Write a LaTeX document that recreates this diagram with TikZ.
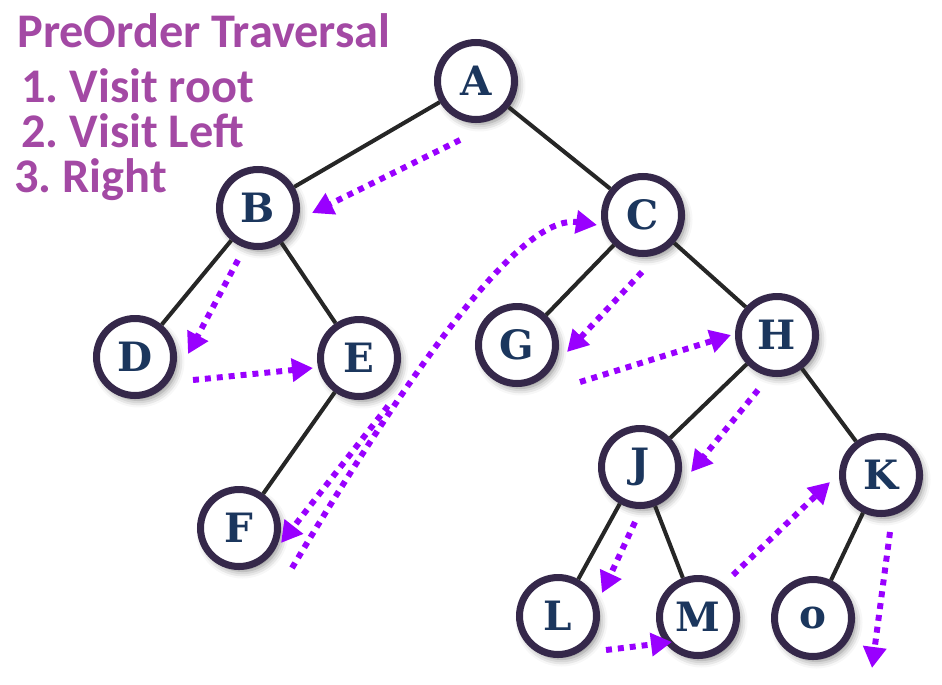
\documentclass[tikz,border=0pt]{standalone}
\usepackage{fontspec}
\newfontfamily\titlefont{Carlito}
\newfontfamily\letterfont{DejaVu Serif}
\usetikzlibrary{arrows.meta,shadows.blur}
\definecolor{ringcol}{HTML}{35284A}
\definecolor{lettercol}{HTML}{1B365D}
\definecolor{tracecol}{HTML}{9900FF}
\definecolor{titlecol}{HTML}{A349A4}
\frenchspacing
\tikzset{
  treenode/.style={circle, draw=ringcol, line width=4pt, fill=white,
    minimum size=1.54cm, inner sep=0pt, text=lettercol,
    font=\letterfont\fontsize{23}{27}\selectfont\bfseries,
    blur shadow={shadow xshift=0.07cm, shadow yshift=-0.09cm,
      shadow blur radius=0.15cm, shadow opacity=50}},
  branch/.style={line width=2.3pt, draw=black!85},
  trav/.style={line width=3.4pt, draw=tracecol, dash pattern=on 3.4pt off 3.4pt,
    -{Triangle[length=0.42cm,width=0.45cm,fill=tracecol]}},
  heading/.style={anchor=base west, inner sep=0pt, text=titlecol,
    font=\titlefont\fontsize{27.5}{30}\selectfont\bfseries}
}
\begin{document}
\begin{tikzpicture}[x=0.02cm,y=-0.02cm]
  \useasboundingbox (0,0) rectangle (942,684);
  % title and steps
  \node[heading] (title) at (17,47) {PreOrder Traversal};
  \node[heading] (stepone) at (21,102) {1. Visit root};
  \node[heading] (steptwo) at (21,147) {2. Visit Left};
  \node[heading] (stepthree) at (14,192) {3. Right};
  % tree nodes
  \node[treenode] (A) at (476,81) {A};
  \node[treenode] (B) at (258,208) {B};
  \node[treenode] (C) at (643,215) {C};
  \node[treenode] (D) at (135,357) {D};
  \node[treenode] (E) at (359,358) {E};
  \node[treenode] (F) at (239,528) {F};
  \node[treenode] (G) at (517,345) {G};
  \node[treenode] (H) at (777,335) {H};
  \node[treenode] (J) at (640,467) {J};
  \node[treenode] (K) at (881,475) {K};
  \node[treenode] (L) at (558,616) {L};
  \node[treenode] (M) at (698,617) {M};
  \node[treenode] (O) at (813,618) {o};
  % branches
  \draw[branch] (A) -- (B);
  \draw[branch] (A) -- (C);
  \draw[branch] (B) -- (D);
  \draw[branch] (B) -- (E);
  \draw[branch] (E) -- (F);
  \draw[branch] (C) -- (G);
  \draw[branch] (C) -- (H);
  \draw[branch] (H) -- (J);
  \draw[branch] (H) -- (K);
  \draw[branch] (J) -- (L);
  \draw[branch] (J) -- (M);
  \draw[branch] (K) -- (O);
  % visiting order
  \coordinate (finish) at (872,668);
  \draw[trav] ([shift={(-16,59)}]A.center) -- ([shift={(54,5)}]B.center);
  \draw[trav] ([shift={(-20,52)}]B.center) -- ([shift={(53,-3)}]D.center);
  \draw[trav] ([shift={(58,23)}]D.center) -- ([shift={(-46,10)}]E.center);
  \draw[trav] ([shift={(29,48)}]E.center) -- ([shift={(42,15)}]F.center);
  \draw[trav] ([shift={(53,40)}]F.center) .. controls +(148,-248) and +(-67,-10) .. ([shift={(-46,10)}]C.center);
  \draw[trav] ([shift={(-1,57)}]C.center) -- ([shift={(50,7)}]G.center);
  \draw[trav] ([shift={(63,37)}]G.center) -- ([shift={(-46,0)}]H.center);
  \draw[trav] ([shift={(-19,55)}]H.center) -- ([shift={(51,5)}]J.center);
  \draw[trav] ([shift={(-5,55)}]J.center) -- ([shift={(44,-23)}]L.center);
  \draw[trav] ([shift={(48,34)}]L.center) -- ([shift={(-26,25)}]M.center);
  \draw[trav] ([shift={(35,-42)}]M.center) -- ([shift={(-51,7)}]K.center);
  \draw[trav] ([shift={(9,57)}]K.center) -- (finish);
\end{tikzpicture}
\end{document}
